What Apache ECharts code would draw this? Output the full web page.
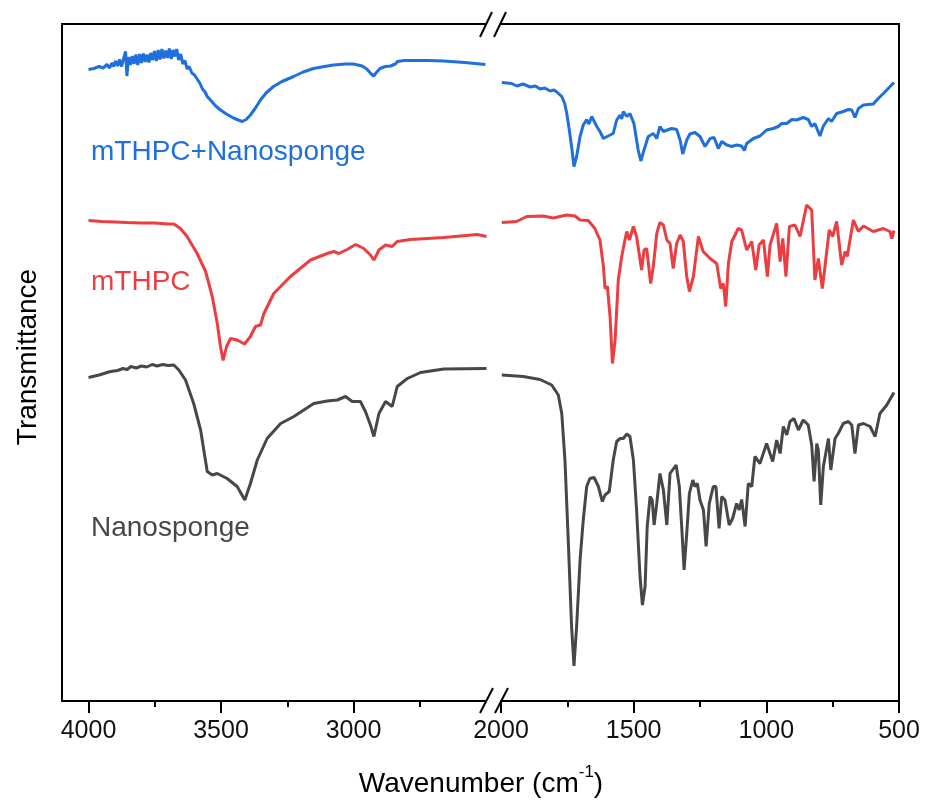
<!DOCTYPE html>
<html>
<head>
<meta charset="utf-8">
<script src="https://cdn.jsdelivr.net/npm/echarts@6/dist/echarts.min.js"></script>
<style>
  html, body { margin: 0; padding: 0; background: #fff; }
  #chart { width: 926px; height: 802px; }
</style>
</head>
<body>
<div id="chart"></div>
<script>
// wavenumber (cm-1), transmittance (a.u., curves stacked with offsets)
const mixLeft = [
  [4000,126.3],[3980,126.5],[3960,126.9],[3945,126.6],[3930,127.3],[3920,126.6],[3912,127.6],[3905,126.9],
  [3898,128.0],[3890,127.0],[3883,128.3],[3875,126.9],[3867,128.6],[3860,129.9],[3855,125.0],[3849,128.8],
  [3842,127.2],[3835,129.0],[3828,127.4],[3821,129.3],[3814,127.2],[3807,129.4],[3800,127.6],[3793,129.5],
  [3786,127.8],[3779,129.3],[3772,127.7],[3765,129.6],[3758,128.2],[3751,130.0],[3744,128.0],[3737,130.2],
  [3730,128.3],[3723,130.4],[3716,128.5],[3709,130.1],[3702,128.6],[3695,130.5],[3688,128.4],[3681,130.2],
  [3674,128.9],[3667,130.4],[3660,128.2],[3652,129.4],[3644,127.4],[3636,128.1],[3628,126.4],[3620,126.9],
  [3610,125.6],[3600,125.2],[3590,124.4],[3580,123.6],[3570,122.4],[3560,121.8],[3552,120.9],[3540,120.2],
  [3520,119.0],[3502,118.2],[3480,117.4],[3453,116.6],[3435,116.2],[3420,115.9],[3405,116.3],[3389,117.2],
  [3370,118.6],[3351,120.2],[3330,121.6],[3302,122.9],[3270,123.9],[3226,124.9],[3190,125.8],[3151,126.5],
  [3110,126.9],[3075,127.2],[3030,127.4],[3000,127.4],[2967,127.0],[2950,126.4],[2935,125.5],[2924,125.0],
  [2912,125.8],[2900,126.5],[2880,126.9],[2860,127.0],[2853,126.8],[2842,127.4],[2834,127.9],[2810,128.1],
  [2785,128.1],[2720,128.1],[2660,128.0],[2580,127.7],[2502,127.3]
]
const mixRight = [
  [1997,123.7],[1960,123.5],[1940,123.0],[1917,123.4],[1890,122.8],[1870,123.0],[1853,122.4],[1835,122.6],
  [1815,122.0],[1800,122.2],[1790,121.8],[1771,120.9],[1760,119.5],[1752,117.5],[1742,114.0],[1734,110.9],
  [1725,106.9],[1715,108.9],[1702,112.9],[1690,115.2],[1677,116.3],[1670,115.4],[1665,115.9],[1658,116.9],
  [1652,116.5],[1639,114.9],[1627,113.9],[1614,112.5],[1596,113.0],[1577,113.5],[1564,116.2],[1551,117.2],
  [1545,116.4],[1539,117.9],[1526,116.9],[1514,117.5],[1499,115.5],[1483,110.2],[1473,108.0],[1461,110.2],
  [1445,112.9],[1426,113.5],[1413,112.5],[1401,114.9],[1388,113.9],[1373,114.2],[1357,114.5],[1338,114.3],
  [1325,112.2],[1315,109.4],[1300,112.2],[1288,113.4],[1269,113.7],[1250,112.9],[1231,110.9],[1212,112.5],
  [1197,112.7],[1181,110.5],[1168,111.9],[1149,111.2],[1130,110.9],[1112,111.2],[1093,111.0],[1083,110.1],
  [1074,111.5],[1049,112.5],[1024,113.0],[999,114.2],[974,114.5],[955,114.9],[942,115.5],[923,115.5],
  [904,116.3],[886,116.2],[861,116.7],[842,116.3],[829,114.9],[817,115.5],[798,113.0],[786,114.9],
  [766,116.5],[754,115.9],[735,117.5],[710,117.9],[691,118.3],[678,118.2],[666,116.7],[653,118.5],
  [634,119.2],[597,119.4],[578,120.5],[546,122.2],[519,123.7]
]
const mthpcLeft = [
  [4000,96.1],[3950,95.9],[3900,95.8],[3854,95.7],[3800,95.6],[3750,95.6],[3700,95.4],[3678,95.4],
  [3653,94.5],[3628,92.9],[3590,89.5],[3558,85.9],[3533,80.9],[3514,75.5],[3502,70.9],[3492,68.1],
  [3479,70.9],[3464,72.5],[3439,72.2],[3411,71.4],[3389,72.9],[3370,74.9],[3351,75.2],[3338,77.5],
  [3301,81.5],[3238,84.9],[3162,88.2],[3099,89.5],[3074,89.9],[3055,89.5],[3024,90.3],[2992,91.3],
  [2961,90.5],[2936,89.2],[2923,88.2],[2904,90.2],[2879,91.2],[2854,90.9],[2835,91.9],[2785,92.3],
  [2659,92.7],[2533,93.3],[2498,92.9]
]
const mthpcRight = [
  [1997,95.7],[1941,95.9],[1903,96.9],[1841,97.0],[1803,96.6],[1752,97.2],[1721,97.0],[1702,96.2],
  [1671,96.1],[1646,94.5],[1627,92.2],[1614,86.9],[1608,82.5],[1599,82.9],[1589,76.9],[1580,67.5],
  [1570,72.2],[1558,84.2],[1545,88.9],[1533,92.2],[1526,93.9],[1516,92.2],[1501,94.9],[1489,92.9],
  [1470,86.2],[1461,90.2],[1451,90.5],[1436,83.5],[1426,86.9],[1413,93.5],[1401,95.7],[1388,95.2],
  [1375,92.2],[1363,91.5],[1351,86.5],[1338,91.5],[1325,93.2],[1313,91.9],[1300,84.9],[1290,81.9],
  [1275,84.9],[1256,92.9],[1238,89.9],[1212,88.5],[1187,87.5],[1172,82.5],[1162,83.5],[1153,78.9],
  [1143,87.5],[1130,91.9],[1106,94.5],[1093,94.2],[1074,90.2],[1055,91.9],[1040,86.2],[1027,91.2],
  [1011,92.2],[996,84.9],[986,91.2],[961,95.5],[948,87.9],[938,92.5],[926,84.9],[913,94.9],
  [892,95.2],[873,92.9],[848,99.2],[829,98.2],[817,84.2],[804,88.5],[789,82.5],[779,86.9],
  [763,94.2],[750,92.9],[735,95.9],[716,87.2],[703,89.9],[695,88.9],[672,96.2],[653,93.9],
  [634,95.0],[597,93.9],[559,94.5],[534,93.9],[527,92.5],[519,94.1]
]
const nanoLeft = [
  [4000,64.7],[3960,65.2],[3917,65.9],[3890,66.1],[3870,66.5],[3854,66.3],[3840,66.9],[3820,66.6],
  [3800,67.0],[3780,66.8],[3760,67.3],[3741,67.0],[3720,67.3],[3700,67.1],[3678,67.2],[3659,66.2],
  [3634,64.2],[3603,59.5],[3577,54.2],[3552,45.9],[3533,45.2],[3514,45.5],[3477,44.5],[3439,42.9],
  [3410,40.2],[3389,43.5],[3363,48.2],[3326,52.5],[3275,55.5],[3225,56.9],[3150,59.5],[3099,60.0],
  [3061,60.2],[3030,60.9],[3005,59.9],[2974,59.9],[2955,57.9],[2936,55.2],[2923,52.9],[2904,57.5],
  [2879,59.9],[2854,58.9],[2835,62.9],[2797,64.5],[2747,65.7],[2659,66.4],[2498,66.5]
]
const nanoRight = [
  [1997,65.2],[1916,64.9],[1853,64.3],[1809,63.2],[1784,61.2],[1771,57.5],[1759,48.2],[1746,31.5],
  [1734,14.9],[1725,7.0],[1715,14.9],[1702,28.2],[1690,36.2],[1677,42.9],[1665,44.5],[1649,44.7],
  [1633,42.9],[1618,39.9],[1608,41.2],[1592,41.9],[1577,48.2],[1564,51.9],[1551,52.5],[1539,52.5],
  [1526,53.4],[1514,52.9],[1501,48.2],[1489,38.2],[1476,24.9],[1467,19.2],[1457,22.9],[1449,34.9],
  [1438,40.9],[1430,40.2],[1423,35.2],[1413,39.5],[1401,45.5],[1388,42.2],[1375,35.2],[1363,45.5],
  [1340,47.2],[1328,42.9],[1319,34.9],[1310,26.2],[1300,33.5],[1290,41.5],[1277,44.2],[1269,42.9],
  [1260,43.5],[1250,40.2],[1237,38.2],[1227,30.9],[1215,39.5],[1200,42.9],[1190,42.9],[1178,34.5],
  [1168,40.9],[1156,40.2],[1140,35.2],[1127,36.5],[1112,39.5],[1102,38.2],[1093,40.3],[1080,34.9],
  [1068,43.5],[1055,42.9],[1043,48.9],[1024,47.5],[999,51.5],[976,47.9],[961,52.2],[948,49.5],
  [936,54.9],[923,53.2],[911,55.9],[896,56.5],[879,54.2],[861,56.2],[842,55.2],[829,51.2],
  [820,43.9],[810,51.5],[804,50.2],[795,39.2],[785,46.9],[766,52.5],[757,46.2],[741,52.5],
  [729,53.5],[710,55.5],[691,55.9],[678,55.2],[666,49.5],[653,55.2],[634,55.5],[609,54.9],
  [590,52.9],[572,57.5],[546,59.2],[519,61.7]
]

const leftMajor = [3000, 3500, 4000]
const leftMinor = [2750, 3250, 3750]
const rightMajor = [500, 1000, 1500, 2000]
const rightMinor = [750, 1250, 1750]

const FONT = '"Liberation Sans", Arial, sans-serif'
const BLUE = '#1f6fdc'
const RED = '#ec3d40'
const GREY = '#474747'

const edge = { show: true, onZero: false, lineStyle: { color: '#000', width: 2 } }
const off = { show: false }

const bottomAxis = (grid, min, max, major) => ({
  gridIndex: grid, type: 'value', position: 'bottom', min, max, inverse: true,
  axisLine: edge,
  axisTick: { show: true, customValues: major, length: 12, lineStyle: { color: '#000', width: 2 } },
  axisLabel: {
    customValues: major, fontSize: 25, color: '#111', fontFamily: FONT, margin: 18,
    formatter: v => String(v)
  },
  splitLine: off
})
const minorAxis = (grid, min, max, minor) => ({
  gridIndex: grid, type: 'value', position: 'bottom', min, max, inverse: true,
  axisLine: off,
  axisTick: { show: true, customValues: minor, length: 6, lineStyle: { color: '#000', width: 2 } },
  axisLabel: off, splitLine: off
})
const topAxis = (grid, min, max) => ({
  gridIndex: grid, type: 'value', position: 'top', min, max, inverse: true,
  axisLine: edge, axisTick: off, axisLabel: off, splitLine: off
})
const sideAxis = (grid, position) => ({
  gridIndex: grid, type: 'value', position, min: 0, max: 135.4,
  axisLine: edge, axisTick: off, axisLabel: off, splitLine: off
})

const line = (data, color, xi, yi) => ({
  type: 'line', data, xAxisIndex: xi, yAxisIndex: yi,
  symbol: 'none', showSymbol: false,
  lineStyle: { color, width: 3 }
})

const brk = (x1, y1, x2, y2) => ({
  type: 'line', z: 100,
  shape: { x1, y1, x2, y2 },
  style: { stroke: '#000', lineWidth: 2 }
})
const label = (text, x, y, color) => ({
  type: 'text', z: 100, x, y,
  style: { text, fill: color, font: '28px ' + FONT, align: 'left', verticalAlign: 'middle' }
})

const chart = echarts.init(document.getElementById('chart'))
chart.setOption({
  animation: false,
  backgroundColor: '#fff',
  grid: [
    { left: 62, top: 24, width: 424, height: 677 },
    { left: 501, top: 24, width: 398, height: 677 }
  ],
  xAxis: [
    bottomAxis(0, 2500, 4100, leftMajor),
    minorAxis(0, 2500, 4100, leftMinor),
    topAxis(0, 2500, 4100),
    bottomAxis(1, 500, 2000, rightMajor),
    minorAxis(1, 500, 2000, rightMinor),
    topAxis(1, 500, 2000)
  ],
  yAxis: [sideAxis(0, 'left'), sideAxis(1, 'right')],
  series: [
    line(nanoLeft, GREY, 0, 0),
    line(nanoRight, GREY, 3, 1),
    line(mthpcLeft, RED, 0, 0),
    line(mthpcRight, RED, 3, 1),
    line(mixLeft, BLUE, 0, 0),
    line(mixRight, BLUE, 3, 1)
  ],
  graphic: [
    brk(480, 37, 492, 12), brk(494, 37, 506, 12),
    brk(480, 713, 493, 688), brk(495, 713, 508, 688),
    label('mTHPC+Nanosponge', 91, 152, BLUE),
    label('mTHPC', 91, 282, RED),
    label('Nanosponge', 91, 528, GREY),
    {
      type: 'text', x: 28, y: 357, rotation: Math.PI / 2,
      style: { text: 'Transmittance', fill: '#000', font: '28px ' + FONT, align: 'center', verticalAlign: 'middle' }
    },
    {
      type: 'text', x: 481, y: 781,
      style: {
        text: '{a|Wavenumber (cm}{s|-1}{a|)}',
        align: 'center', verticalAlign: 'middle',
        rich: {
          a: { fill: '#000', fontSize: 28, fontFamily: FONT, lineHeight: 34, verticalAlign: 'bottom' },
          s: { fill: '#000', fontSize: 17, fontFamily: FONT, lineHeight: 34, verticalAlign: 'top' }
        }
      }
    }
  ]
})
</script>
</body>
</html>
